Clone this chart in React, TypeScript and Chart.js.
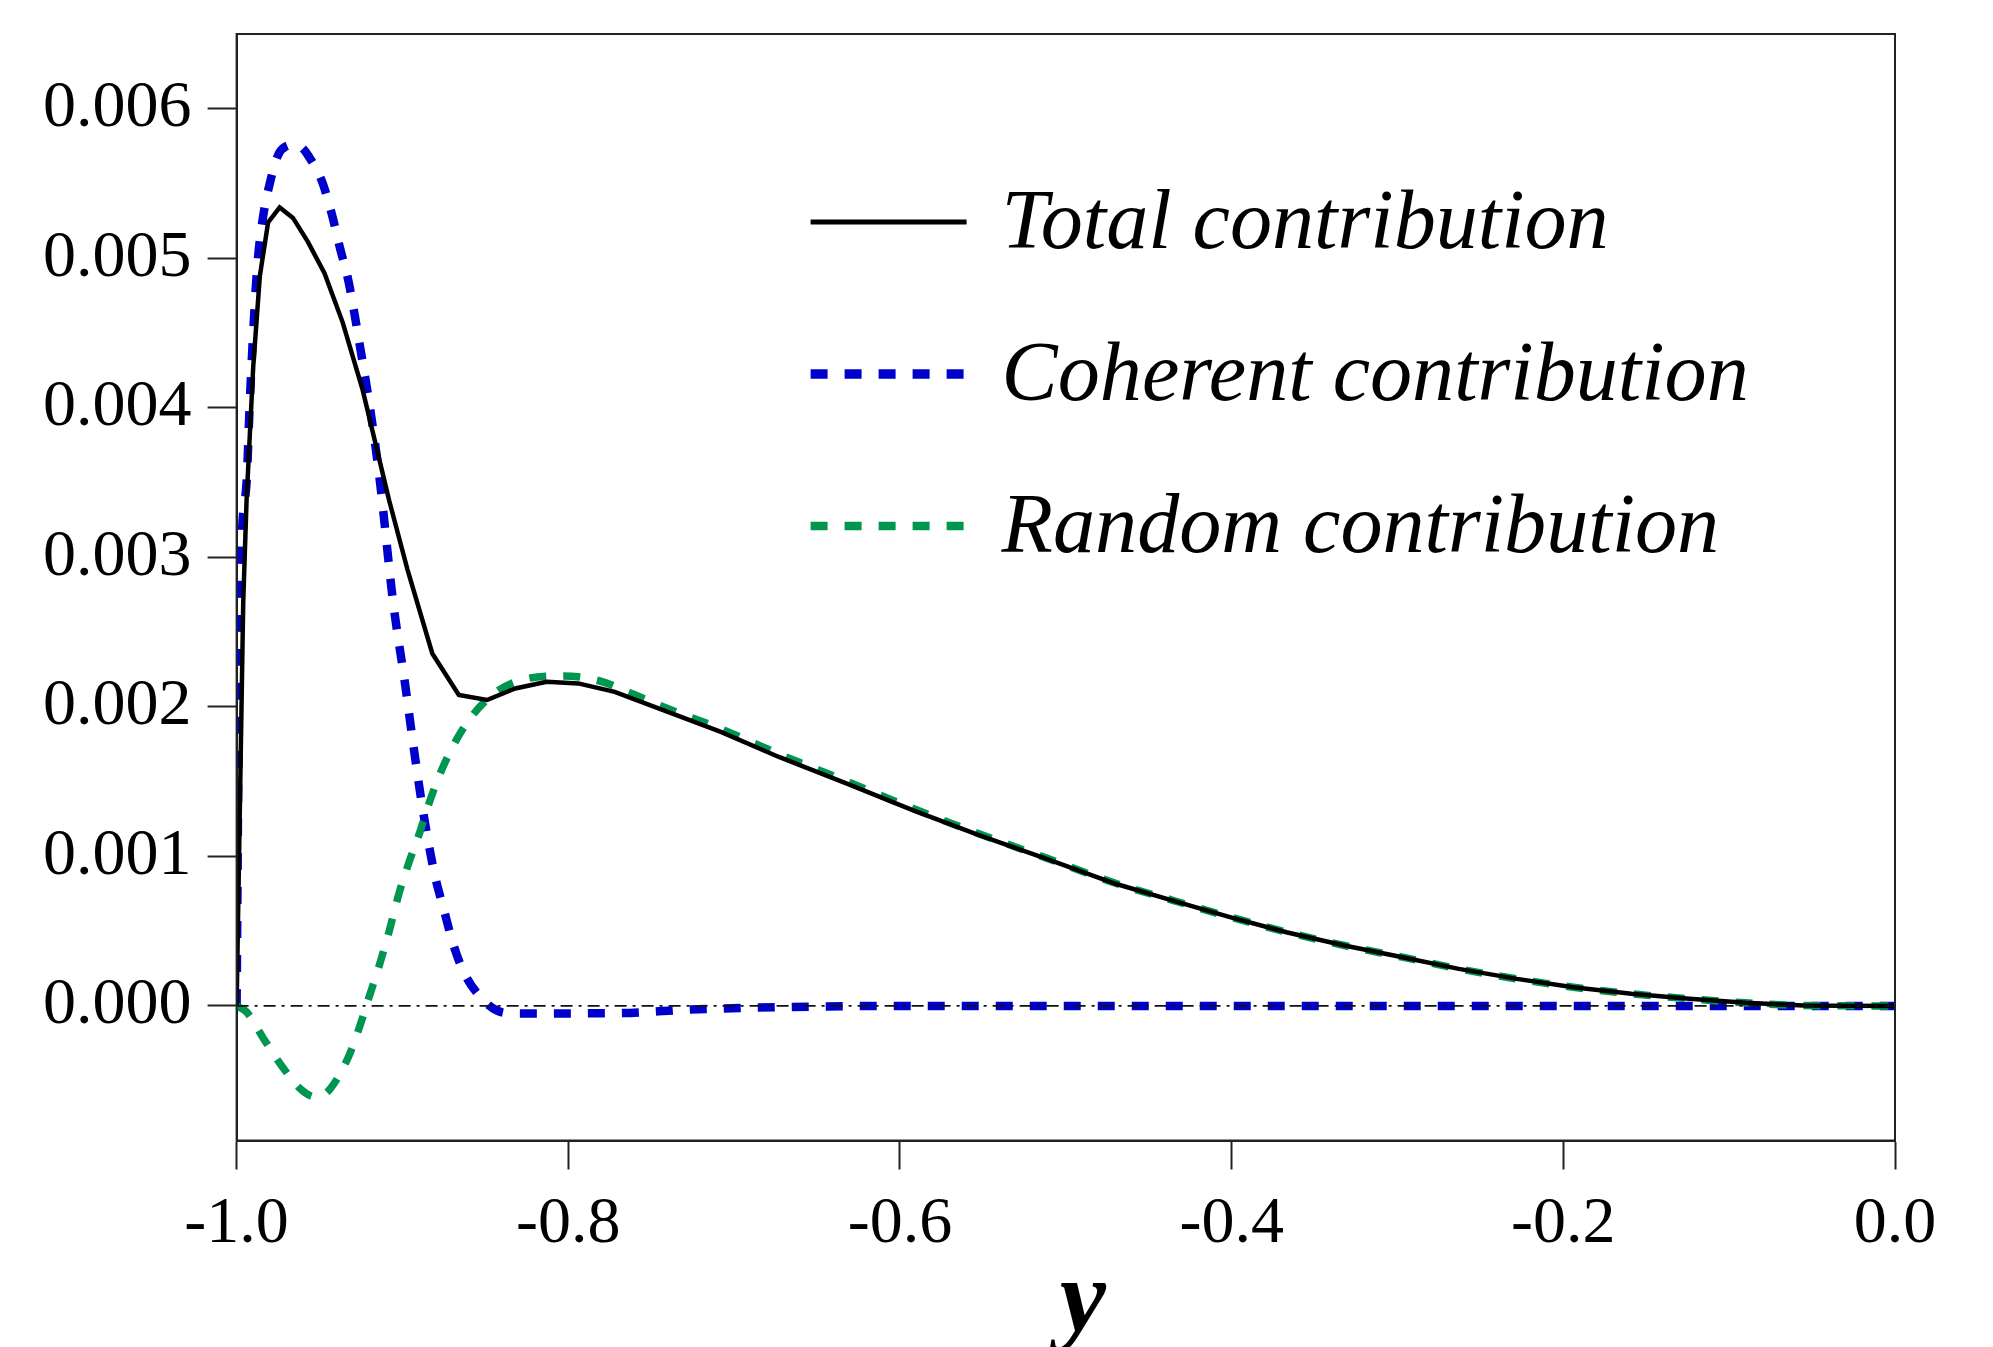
import React, { useEffect, useRef } from "react";
import { Chart, registerables } from "chart.js";

Chart.register(...registerables);

const xTicks = [-1.0, -0.8, -0.6, -0.4, -0.2, 0.0];
const yTicks = [0, 0.001, 0.002, 0.003, 0.004, 0.005, 0.006];
const seriesLabels = ["Total contribution", "Coherent contribution", "Random contribution"];
const axisTitleX = "y";

const totalX = [-1.0, -0.996, -0.994, -0.990, -0.986, -0.981, -0.974, -0.966, -0.957, -0.947, -0.936, -0.924, -0.908, -0.897, -0.882, -0.866, -0.849, -0.832, -0.813, -0.794, -0.772, -0.740, -0.708, -0.673, -0.632, -0.592, -0.552, -0.512, -0.470, -0.436, -0.401, -0.367, -0.332, -0.297, -0.263, -0.228, -0.194, -0.159, -0.124, -0.090, -0.055, 0.0];
const totalY = [0, 0.0027, 0.00338, 0.00427, 0.00488, 0.00524, 0.00534, 0.00527, 0.00511, 0.0049, 0.00457, 0.00412, 0.00338, 0.00292, 0.002357, 0.00208, 0.002046, 0.002123, 0.002168, 0.002157, 0.0021, 0.001967, 0.001833, 0.001665, 0.001487, 0.001308, 0.001141, 0.000985, 0.000817, 0.000706, 0.000594, 0.000493, 0.000404, 0.000326, 0.000248, 0.000181, 0.000125, 0.000081, 0.000048, 0.000021, 0.000003, 0];

const coherentX = [-1.0, -0.998, -0.994, -0.992, -0.990, -0.9875, -0.984, -0.980, -0.975, -0.970, -0.965, -0.9605, -0.957, -0.9487, -0.9427, -0.9377, -0.9326, -0.9256, -0.9185, -0.9135, -0.9055, -0.8985, -0.8935, -0.8874, -0.8804, -0.8754, -0.8693, -0.8623, -0.8513, -0.8432, -0.833, -0.809, -0.769, -0.73, -0.69, -0.65, -0.6, -0.4, -0.2, 0.0];
const coherentY = [0, 0.0027, 0.0035, 0.00405, 0.0045, 0.00495, 0.00528, 0.0055, 0.00569, 0.00575, 0.00576, 0.00574, 0.00569, 0.00552, 0.0053, 0.00507, 0.00485, 0.00441, 0.00392, 0.0035, 0.00269, 0.00216, 0.00175, 0.00129, 0.00087, 0.00066, 0.00041, 0.00021, 0.00004, -0.00003, -0.00005, -0.00005, -0.000048, -0.000026, -0.000012, -0.000004, 0, 0, 0, 0];

const randomX = [-1.0, -0.994, -0.984, -0.973, -0.961, -0.952, -0.944, -0.933, -0.926, -0.920, -0.914, -0.908, -0.902, -0.896, -0.890, -0.884, -0.877, -0.868, -0.857, -0.843, -0.825, -0.803, -0.781, -0.764, -0.745, -0.708, -0.673, -0.632, -0.592, -0.552, -0.512, -0.470, -0.436, -0.401, -0.367, -0.332, -0.297, -0.263, -0.228, -0.194, -0.159, -0.124, -0.090, -0.055, 0.0];
const randomY = [0, -0.00004, -0.000214, -0.000398, -0.00056, -0.00061, -0.00056, -0.000352, -0.000145, 0.000063, 0.00027, 0.0005, 0.000755, 0.000962, 0.001146, 0.001354, 0.001561, 0.001769, 0.001954, 0.002103, 0.002189, 0.002207, 0.002173, 0.0021, 0.00201, 0.001853, 0.001685, 0.001502, 0.00132, 0.00115, 0.00099, 0.00082, 0.000708, 0.000595, 0.000494, 0.000404, 0.000326, 0.000248, 0.000181, 0.000125, 0.000081, 0.000048, 0.000021, 0.000003, 0];

const zeroX = [-1.0, 0.0];
const zeroY = [0, 0];

const SERIF = "'Liberation Serif', 'Times New Roman', serif";

function pts(xs: number[], ys: number[]) {
  return xs.map((x, i) => ({ x, y: ys[i] }));
}

const framePlugin = {
  id: "frameAndLegend",
  afterDraw(chart: any) {
    const ctx = chart.ctx;
    const { left, top, right, bottom } = chart.chartArea;
    ctx.save();
    ctx.strokeStyle = "#222";
    ctx.lineWidth = 2;
    ctx.strokeRect(left, top, right - left, bottom - top);
    ctx.restore();

    // legend
    const lineX1 = left + 574;
    const lineX2 = left + 730;
    const textX = left + 765;
    const rowY0 = top + 188;
    const rowGap = 152;
    const entries = chart.data.datasets.filter((d: any) => seriesLabels.includes(d.label));
    entries.forEach((ds: any, i: number) => {
      const y = rowY0 + i * rowGap;
      ctx.save();
      ctx.strokeStyle = ds.borderColor;
      ctx.lineWidth = ds.borderWidth + (ds.borderDash ? 1 : 0.5);
      ctx.lineCap = "butt";
      ctx.setLineDash(ds.borderDash || []);
      ctx.beginPath();
      ctx.moveTo(lineX1, y);
      ctx.lineTo(lineX2, y);
      ctx.stroke();
      ctx.setLineDash([]);
      ctx.fillStyle = "#000";
      ctx.font = `italic 85px ${SERIF}`;
      ctx.textBaseline = "alphabetic";
      ctx.textAlign = "left";
      ctx.translate(textX, y + 26);
      ctx.scale(0.99, 1);
      ctx.fillText(ds.label, 0, 0);
      ctx.restore();
    });

    // x axis title
    ctx.save();
    ctx.fillStyle = "#000";
    ctx.font = `bold italic 104px ${SERIF}`;
    ctx.textAlign = "center";
    ctx.textBaseline = "alphabetic";
    ctx.fillText(axisTitleX, (left + right) / 2 + 17, 1331);
    ctx.restore();
  },
};

export default function App() {
  const canvasRef = useRef<HTMLCanvasElement | null>(null);

  useEffect(() => {
    const canvas = canvasRef.current;
    if (!canvas) return;
    const chart = new Chart(canvas, {
      type: "line",
      data: {
        datasets: [
          {
            label: "zero",
            data: pts(zeroX, zeroY),
            borderColor: "#111",
            borderWidth: 1.8,
            borderDash: [12, 6, 3, 6],
            pointRadius: 0,
            order: 0,
          },
          {
            label: seriesLabels[0],
            data: pts(totalX, totalY),
            borderColor: "#000000",
            borderWidth: 4.5,
            pointRadius: 0,
            tension: 0,
            order: 1,
          },
          {
            label: seriesLabels[1],
            data: pts(coherentX, coherentY),
            borderColor: "#0000cc",
            borderWidth: 8.5,
            borderDash: [17, 17],
            pointRadius: 0,
            cubicInterpolationMode: "monotone",
            order: 3,
          },
          {
            label: seriesLabels[2],
            data: pts(randomX, randomY),
            borderColor: "#009650",
            borderWidth: 7.5,
            borderDash: [17, 17],
            pointRadius: 0,
            cubicInterpolationMode: "monotone",
            order: 2,
          },
        ],
      } as any,
      options: {
        responsive: false,
        devicePixelRatio: 1,
        animation: false,
        layout: { padding: { top: 34, right: 98, bottom: 0, left: 0 } },
        plugins: {
          legend: { display: false },
          tooltip: { enabled: false },
          title: { display: false },
        },
        scales: {
          x: {
            type: "linear",
            min: -1.0,
            max: 0.0,
            afterBuildTicks: (scale: any) => {
              scale.ticks = xTicks.map((v) => ({ value: v }));
            },
            afterFit: (scale: any) => {
              scale.height = 206.5;
              scale.paddingLeft = 0;
              scale.paddingRight = 0;
            },
            grid: {
              display: true,
              drawOnChartArea: false,
              drawTicks: true,
              tickLength: 29,
              tickWidth: 2,
              tickColor: "#222",
            },
            border: { display: true, color: "#222", width: 2 },
            ticks: {
              color: "#000",
              padding: 16,
              maxRotation: 0,
              autoSkip: false,
              font: { family: SERIF, size: 66 },
              callback: (v: any) => Number(v).toFixed(1),
            },
          },
          y: {
            type: "linear",
            min: -0.0009,
            max: 0.0065,
            afterBuildTicks: (scale: any) => {
              scale.ticks = yTicks.map((v) => ({ value: v }));
            },
            afterFit: (scale: any) => {
              scale.width = 236.6;
              scale.paddingTop = 0;
              scale.paddingBottom = 0;
            },
            grid: {
              display: true,
              drawOnChartArea: false,
              drawTicks: true,
              tickLength: 29,
              tickWidth: 2,
              tickColor: "#222",
            },
            border: { display: true, color: "#222", width: 2 },
            ticks: {
              color: "#000",
              padding: 16,
              autoSkip: false,
              font: { family: SERIF, size: 66 },
              callback: (v: any) => Number(v).toFixed(3),
            },
          },
        },
      } as any,
      plugins: [framePlugin],
    });
    return () => chart.destroy();
  }, []);

  return (
    <div style={{ position: "fixed", left: 0, top: 0, width: 1993, height: 1347, background: "#fff" }}>
      <canvas ref={canvasRef} width={1993} height={1347} style={{ display: "block" }} />
    </div>
  );
}
